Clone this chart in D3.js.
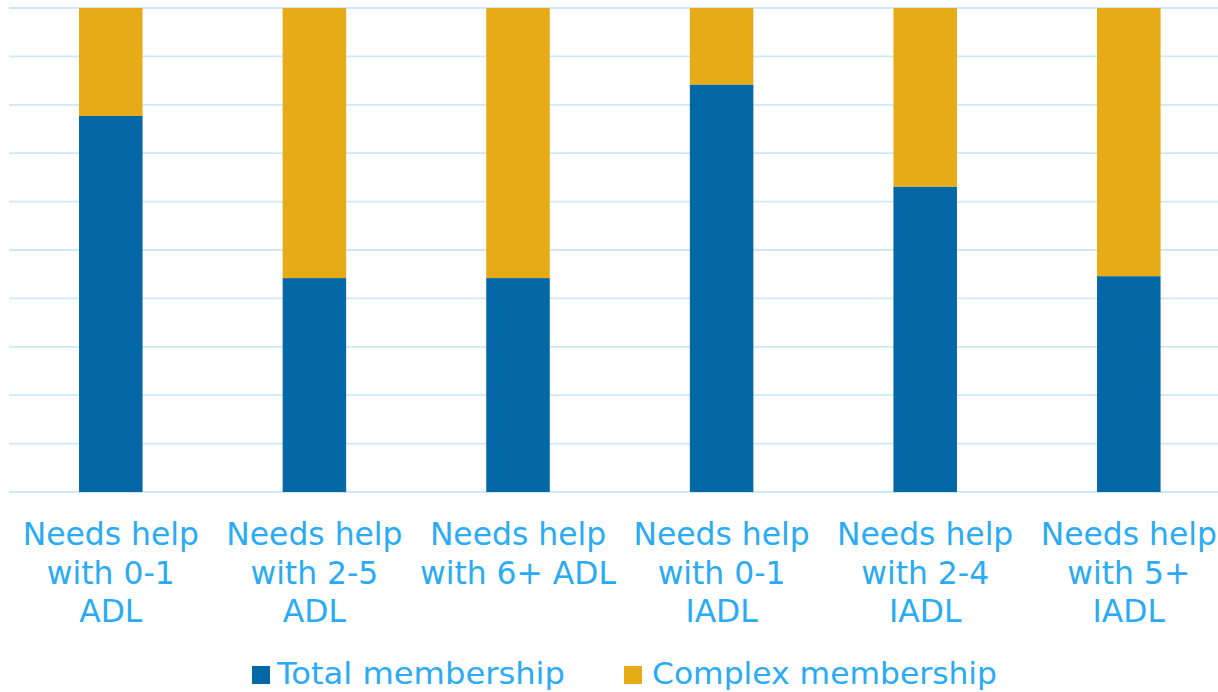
<!DOCTYPE html>
<html>
<head>
<meta charset="utf-8">
<script src="https://cdn.jsdelivr.net/npm/d3@7"></script>
<style>
  html, body { margin: 0; padding: 0; background: #ffffff; }
  svg { display: block; }
  text { font-family: "DejaVu Sans", Verdana, sans-serif; fill: #29abf5; }
</style>
</head>
<body>
<svg id="chart" width="1218" height="692"></svg>
<script>
// Categories (axis labels, line-broken as shown under each bar)
const categories = [
  "Needs help\nwith 0-1\nADL",
  "Needs help\nwith 2-5\nADL",
  "Needs help\nwith 6+ ADL",
  "Needs help\nwith 0-1\nIADL",
  "Needs help\nwith 2-4\nIADL",
  "Needs help\nwith 5+\nIADL"
];
// Share of each stack, in percent
const totalMembership   = [77.7, 44.2, 44.2, 84.2, 63.1, 44.6];
const complexMembership = [22.3, 55.8, 55.8, 15.8, 36.9, 55.4];
const seriesNames = ["Total membership", "Complex membership"];
const gridTicks = [0, 10, 20, 30, 40, 50, 60, 70, 80, 90, 100];

const colors = { "Total membership": "#0568a6", "Complex membership": "#e6ab16" };

const svg = d3.select("#chart");
const W = 1218;
const plot = { left: 9, top: 8, bottom: 492 };
const step = 203.6;

const x = d3.scaleBand()
  .domain(categories)
  .range([plot.left, plot.left + step * categories.length])
  .paddingInner(0.688)
  .paddingOuter(0.344);

const y = d3.scaleLinear().domain([0, 100]).range([plot.bottom, plot.top]);

// Horizontal gridlines
svg.append("g")
  .selectAll("line")
  .data(gridTicks)
  .join("line")
  .attr("x1", plot.left)
  .attr("x2", W)
  .attr("y1", d => y(d))
  .attr("y2", d => y(d))
  .attr("stroke", "#cde8fb")
  .attr("stroke-width", 1.8);

// Stacked bars
const rows = categories.map((c, i) => ({
  category: c,
  "Total membership": totalMembership[i],
  "Complex membership": complexMembership[i]
}));
const stacked = d3.stack().keys(seriesNames)(rows);

svg.append("g")
  .selectAll("g")
  .data(stacked)
  .join("g")
  .attr("fill", d => colors[d.key])
  .selectAll("rect")
  .data(d => d)
  .join("rect")
  .attr("x", d => x(d.data.category))
  .attr("width", x.bandwidth())
  .attr("y", d => y(d[1]))
  .attr("height", d => y(d[0]) - y(d[1]));

// Category labels under the bars
const axis = svg.append("g");
categories.forEach(c => {
  const t = axis.append("text")
    .attr("text-anchor", "middle")
    .attr("font-size", 31.4)
    .attr("x", x(c) + x.bandwidth() / 2)
    .attr("y", 545);
  c.split("\n").forEach((line, j) => {
    t.append("tspan")
      .attr("x", x(c) + x.bandwidth() / 2)
      .attr("dy", j === 0 ? 0 : 38.5)
      .text(line);
  });
});

// Legend
const legendItems = [
  { name: seriesNames[0], sx: 252, tx: 277, tl: 288 },
  { name: seriesNames[1], sx: 624, tx: 652, tl: 345 }
];
const legend = svg.append("g");
legendItems.forEach(it => {
  legend.append("rect")
    .attr("x", it.sx).attr("y", 666)
    .attr("width", 18).attr("height", 18)
    .attr("fill", colors[it.name]);
  legend.append("text")
    .attr("x", it.tx).attr("y", 684)
    .attr("font-size", 31)
    .attr("textLength", it.tl)
    .attr("lengthAdjust", "spacingAndGlyphs")
    .text(it.name);
});
</script>
</body>
</html>
